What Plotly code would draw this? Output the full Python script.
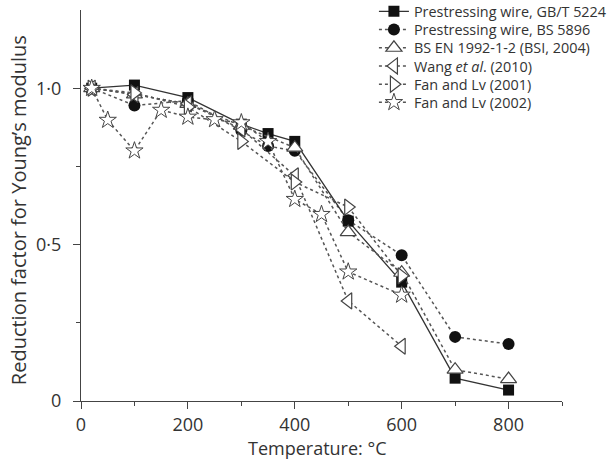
import plotly.graph_objects as go

# Temperatures (°C) and reduction factors for Young's modulus
temp_gbt = [20, 100, 200, 300, 350, 400, 500, 600, 700, 800]
red_gbt = [1.0, 1.01, 0.97, 0.885, 0.855, 0.83, 0.575, 0.38, 0.073, 0.035]

temp_bs = [20, 100, 200, 300, 350, 400, 500, 600, 700, 800]
red_bs = [1.0, 0.945, 0.96, 0.865, 0.815, 0.80, 0.578, 0.466, 0.205, 0.182]

temp_en = [20, 100, 200, 300, 400, 500, 600, 700, 800]
red_en = [1.0, 0.98, 0.95, 0.88, 0.81, 0.54, 0.41, 0.10, 0.07]

temp_wang = [20, 100, 200, 300, 400, 500, 600]
red_wang = [1.0, 0.98, 0.95, 0.87, 0.72, 0.32, 0.175]

temp_fan01 = [20, 100, 200, 300, 400, 500, 600]
red_fan01 = [1.0, 0.985, 0.94, 0.83, 0.70, 0.62, 0.40]

temp_fan02 = [20, 50, 100, 150, 200, 250, 300, 350, 400, 450, 500, 600]
red_fan02 = [1.0, 0.898, 0.80, 0.93, 0.908, 0.90, 0.89, 0.83, 0.645, 0.597, 0.413, 0.339]

x_ticks = [0, 200, 400, 600, 800]
y_ticks = [0, 0.5, 1.0]
y_ticktext = ["0", "0·5", "1·0"]

FONT = "Open Sans, Noto Sans, sans-serif"
INK = "#333333"
DOT = dict(color="#555555", width=1.5, dash="dot")
OUTLINE = dict(color="#444444", width=1.2)

fig = go.Figure()

# BS 5896 circles go underneath the squares
fig.add_trace(go.Scatter(
    x=temp_bs, y=red_bs, mode="lines+markers", name="Prestressing wire, BS 5896",
    legend="legend2", line=DOT,
    marker=dict(symbol="circle", size=12, color="#111111", line=dict(width=0)),
))
fig.add_trace(go.Scatter(
    x=temp_gbt, y=red_gbt, mode="lines+markers", name="Prestressing wire, GB/T 5224",
    legend="legend", line=dict(color="#333333", width=1.3),
    marker=dict(symbol="square", size=11, color="#111111", line=dict(width=0)),
))
fig.add_trace(go.Scatter(
    x=temp_en, y=red_en, mode="lines+markers", name="BS EN 1992-1-2 (BSI, 2004)",
    legend="legend3", line=DOT,
    marker=dict(symbol="triangle-up", size=14, color="white", line=OUTLINE),
))
fig.add_trace(go.Scatter(
    x=temp_wang, y=red_wang, mode="lines+markers", name="Wang <i>et al</i>. (2010)",
    legend="legend4", line=DOT,
    marker=dict(symbol="triangle-left", size=14, color="white", line=OUTLINE),
))
fig.add_trace(go.Scatter(
    x=temp_fan01, y=red_fan01, mode="lines+markers", name="Fan and Lv (2001)",
    legend="legend5", line=DOT,
    marker=dict(symbol="triangle-right", size=14, color="white", line=OUTLINE),
))
fig.add_trace(go.Scatter(
    x=temp_fan02, y=red_fan02, mode="lines+markers", name="Fan and Lv (2002)",
    legend="legend6", line=DOT,
    marker=dict(symbol="star", size=13, color="white", line=dict(color="#444444", width=1)),
))

axis_common = dict(
    showline=True, linecolor="#444444", linewidth=1.3,
    ticks="outside", tickcolor="#444444", ticklen=7, tickwidth=1.3,
    showgrid=False, zeroline=False,
    tickfont=dict(family=FONT, size=18, color=INK),
)

# one single-entry legend per row, stacked in the upper right corner
legend_rows = {}
for i, key in enumerate(["legend", "legend2", "legend3", "legend4", "legend5", "legend6"]):
    row_px = 11.5 + 18.2 * i
    legend_rows[key] = dict(
        x=0.609, y=(401 - row_px) / 391, xanchor="left", yanchor="middle",
        bgcolor="rgba(255,255,255,0)", borderwidth=0,
        font=dict(family=FONT, size=14.4, color=INK), itemwidth=30,
    )

fig.update_layout(
    width=612, height=470,
    margin=dict(l=81, r=50, t=10, b=69, autoexpand=False),
    paper_bgcolor="white", plot_bgcolor="white",
    font=dict(family=FONT, color=INK),
    xaxis=dict(
        range=[0, 900], tickvals=x_ticks,
        minor=dict(tickvals=[100, 300, 500, 700, 900], ticks="outside", ticklen=4,
                   tickcolor="#444444", tickwidth=1.3),
        **axis_common,
    ),
    yaxis=dict(
        range=[0, 1.25], tickvals=y_ticks, ticktext=y_ticktext, ticklabelstandoff=8,
        minor=dict(tickvals=[0.25, 0.75], ticks="outside", ticklen=4,
                   tickcolor="#444444", tickwidth=1.3),
        **axis_common,
    ),
    annotations=[
        dict(text="Temperature: °C", xref="paper", yref="paper",
             x=0.491, y=-0.120, xanchor="center", yanchor="middle", showarrow=False,
             font=dict(family=FONT, size=18, color=INK)),
        dict(text="Reduction factor for Young’s modulus", xref="paper", yref="paper",
             x=-0.131, y=0.488, xanchor="center", yanchor="middle", textangle=-90,
             showarrow=False, font=dict(family=FONT, size=20, color=INK)),
    ],
    showlegend=True,
    **legend_rows,
)

fig.write_html("out.html")
